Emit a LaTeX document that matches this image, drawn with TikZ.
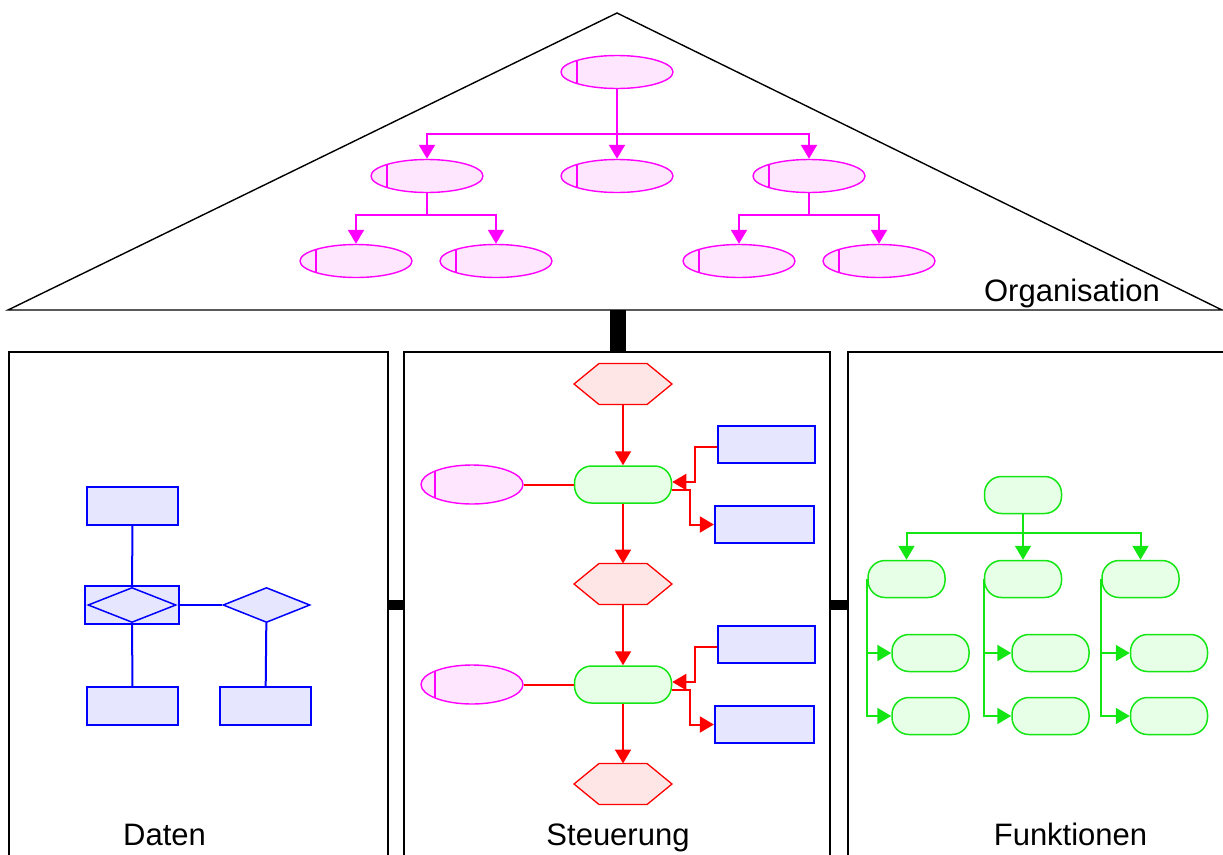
\documentclass[tikz,border=0pt]{standalone}
\usepackage{fontspec}
\setmainfont{Liberation Sans}
\usetikzlibrary{arrows.meta,shapes.geometric,calc}
\definecolor{mag}{RGB}{255,0,255}
\definecolor{magfill}{RGB}{255,230,255}
\definecolor{rd}{RGB}{255,0,0}
\definecolor{rdfill}{RGB}{255,230,230}
\definecolor{gr}{RGB}{20,230,20}
\definecolor{grfill}{RGB}{230,255,230}
\definecolor{bl}{RGB}{0,0,255}
\definecolor{blfill}{RGB}{230,230,255}
\tikzset{
  tip/.style={-{Triangle[length=14pt,width=16pt]}},
  orgell/.style={ellipse, draw=mag, fill=magfill, line width=1.4, inner sep=0,
    minimum width=112, minimum height=33,
    path picture={\draw[mag, line width=1.8] ($(path picture bounding box.west)+(16,-25)$) -- ($(path picture bounding box.west)+(16,25)$);}},
  sell/.style={orgell, minimum width=102, minimum height=39,
    path picture={\draw[mag, line width=1.8] ($(path picture bounding box.west)+(14,-25)$) -- ($(path picture bounding box.west)+(14,25)$);}},
  orgline/.style={draw=mag, line width=2},
  orgarrow/.style={orgline, tip, mag},
  fnode/.style={rectangle, rounded corners=17, draw=gr, fill=grfill, line width=1.5,
    minimum width=97, minimum height=37, inner sep=0},
  gnode/.style={fnode, minimum width=77},
  gline/.style={draw=gr, line width=2},
  garrow/.style={gline, tip, gr},
  redline/.style={draw=rd, line width=2},
  redarrow/.style={redline, tip, rd},
  hexcore/.style={rectangle, minimum width=48, minimum height=41, inner sep=0, outer sep=0},
  hexstyle/.style={draw=rd, fill=rdfill, line width=1.3},
  entity/.style={rectangle, draw=bl, fill=blfill, line width=2.3, inner sep=0,
    minimum width=91, minimum height=38},
  relship/.style={diamond, draw=bl, fill=blfill, line width=1.5, inner sep=0,
    minimum width=88, minimum height=35},
  bline/.style={draw=bl, line width=2},
  frame/.style={draw=black, line width=2},
  lbl/.style={font=\fontsize{31}{31}\selectfont, inner sep=0, anchor=base}
}
\newcommand\hexa[3]{%
  \node[hexcore] (#1) at (#2,#3) {};
  \draw[hexstyle] (#1.north west) -- (#1.north east) -- ([xshift=25pt]#1.east)
    -- (#1.south east) -- (#1.south west) -- ([xshift=-25pt]#1.west) -- cycle;}
\begin{document}
\begin{tikzpicture}[x=1pt,y=-1pt]
\useasboundingbox (0,0) rectangle (1223,854);
% ---- house frame ----
\draw[black, line width=1.4] (8,310) -- (617,13) -- (1222,310) -- cycle;
\fill[black] (610,310) rectangle (626,352);
\draw[frame] (9,860) -- (9,352) -- (388,352) -- (388,860);
\draw[frame] (404,860) -- (404,352) -- (830,352) -- (830,860);
\draw[frame] (848,860) -- (848,352) -- (1226,352);
\fill[black] (388,600) rectangle (404,610);
\fill[black] (830,600) rectangle (848,610);
% ---- labels ----
\node[lbl] (lorg) at (1072,301) {Organisation};
\node[lbl] (ldat) at (164.5,845) {Daten};
\node[lbl] (lsteu) at (618,845) {Steuerung};
\node[lbl] (lfkt) at (1070.5,845) {Funktionen};
% ---- organisation ----
\node[orgell] (o0) at (617,72) {};
\node[orgell] (o1) at (427,176) {};
\node[orgell] (o2) at (617,176) {};
\node[orgell] (o3) at (809,176) {};
\node[orgell] (o11) at (356,261) {};
\node[orgell] (o12) at (496,261) {};
\node[orgell] (o31) at (739,261) {};
\node[orgell] (o32) at (879,261) {};
\coordinate (j0) at (617,134);
\coordinate (j1) at (427,215);
\coordinate (j3) at (809,215);
\draw[orgarrow] (o0) -- (o2);
\draw[orgarrow] (j0) -| (o1);
\draw[orgarrow] (j0) -| (o3);
\draw[orgline] (o1) -- (j1);
\draw[orgarrow] (j1) -| (o11);
\draw[orgarrow] (j1) -| (o12);
\draw[orgline] (o3) -- (j3);
\draw[orgarrow] (j3) -| (o31);
\draw[orgarrow] (j3) -| (o32);
% ---- Daten ----
\node[entity] (d1) at (132.5,506) {};
\node[entity, minimum width=94] (dd) at (132,605) {};
\node[relship] (ddr) at (132,605) {};
\node[relship, minimum width=87] (d2) at (266.5,605) {};
\node[entity] (d3) at (132.5,706) {};
\node[entity] (d4) at (265.5,706) {};
\draw[bline] (d1) -- (ddr);
\draw[bline] (dd) -- (d3);
\draw[bline] (dd) -- (d2);
\draw[bline] (d2) -- (d4);
% ---- Steuerung ----
\hexa{h1}{623}{384}
\hexa{h2}{623}{584}
\hexa{h3}{623}{784}
\node[fnode] (f1) at (623,484.5) {};
\node[fnode] (f2) at (623,684.5) {};
\node[sell] (e1) at (472,484.5) {};
\node[sell] (e2) at (472,684.5) {};
\node[entity, minimum width=97, minimum height=37] (b1) at (766.5,444.5) {};
\node[entity, minimum width=99, minimum height=37] (b2) at (764.5,524.5) {};
\node[entity, minimum width=97, minimum height=37] (b3) at (766.5,644.5) {};
\node[entity, minimum width=99, minimum height=37] (b4) at (764.5,724.5) {};
\draw[redarrow] (h1) -- (f1);
\draw[redarrow] (f1) -- (h2);
\draw[redarrow] (h2) -- (f2);
\draw[redarrow] (f2) -- (h3);
\draw[redline] (e1) -- (f1);
\draw[redline] (e2) -- (f2);
\draw[redarrow] (b1.west) ++(0,2.5) -- ++(-22,0) |- ($(f1.east)+(0,-2.5)$);
\draw[redarrow] ($(f1.east)+(0,5.5)$) -- ++(18,0) |- (b2.west);
\draw[redarrow] (b3.west) ++(0,2.5) -- ++(-22,0) |- ($(f2.east)+(0,-2.5)$);
\draw[redarrow] ($(f2.east)+(0,5.5)$) -- ++(18,0) |- (b4.west);
% ---- Funktionen ----
\node[gnode] (g0) at (1023,495) {};
\node[gnode] (g1) at (906.5,579) {};
\node[gnode] (g2) at (1023,579) {};
\node[gnode] (g3) at (1140.5,579) {};
\node[gnode] (g11) at (930.5,653) {};
\node[gnode] (g12) at (930.5,716) {};
\node[gnode] (g21) at (1050.5,653) {};
\node[gnode] (g22) at (1050.5,716) {};
\node[gnode] (g31) at (1169,653) {};
\node[gnode] (g32) at (1169,716) {};
\coordinate (k) at (1023,533);
\draw[garrow] (g0) -- (g2);
\draw[garrow] (k) -| (g1);
\draw[garrow] (k) -| (g3);
\draw[garrow] (g1.west) |- (g11.west);
\draw[garrow] (g1.west) |- (g12.west);
\draw[garrow] (g2.west) |- (g21.west);
\draw[garrow] (g2.west) |- (g22.west);
\draw[garrow] (g3.west) |- (g31.west);
\draw[garrow] (g3.west) |- (g32.west);
\end{tikzpicture}
\end{document}
